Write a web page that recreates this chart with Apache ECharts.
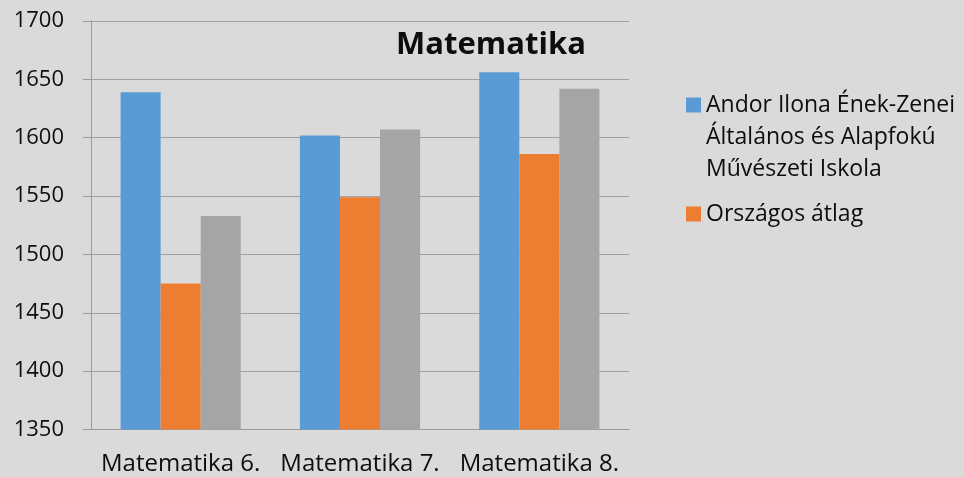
<!DOCTYPE html>
<html>
<head>
<meta charset="utf-8">
<script src="https://cdn.jsdelivr.net/npm/echarts@6/dist/echarts.min.js"></script>
<style>
html,body{margin:0;padding:0;background:#dadada;}
#chart{width:964px;height:477px;}
</style>
</head>
<body>
<div id="chart"></div>
<script>
const categories = ['Matematika 6.', 'Matematika 7.', 'Matematika 8.'];
const seriesNames = ['Andor Ilona Ének-Zenei\nÁltalános és Alapfokú\nMűvészeti Iskola', 'Országos átlag', 'Sorozat3'];
const schoolValues = [1639, 1602, 1656];
const nationalValues = [1475, 1549, 1586];
const thirdValues = [1533, 1607, 1642];
const yTicks = [1350, 1400, 1450, 1500, 1550, 1600, 1650, 1700];

const chart = echarts.init(document.getElementById('chart'));
const font = '"Open Sans", sans-serif';
const txt = {fontFamily: font, fontSize: 23, color: '#0d0d0d', lineHeight: 32};
chart.setOption({
  backgroundColor: '#dadada',
  animation: false,
  title: {
    text: 'Matematika',
    left: 486, top: 25, textAlign: 'center',
    textStyle: {fontFamily: font, fontWeight: 'bold', fontSize: 31, color: '#0d0d0d'}
  },
  legend: {
    orient: 'vertical',
    left: 686, top: 25, padding: 0,
    itemWidth: 15, itemHeight: 15, itemGap: 13,
    icon: 'rect',
    textStyle: {
      fontFamily: font, fontSize: 23, color: '#0d0d0d', lineHeight: 32,
      rich: {sp: {fontFamily: font, fontSize: 23, lineHeight: 64}, t: txt}
    },
    formatter: function (name) {
      if (name.indexOf('\n') < 0) return name;
      return '{sp| }\n' + name.split('\n').map(function (l) { return '{t|' + l + '}'; }).join('\n');
    },
    data: [seriesNames[0], seriesNames[1]]
  },
  grid: {left: 91, right: 335, top: 21, bottom: 47.5, containLabel: false},
  xAxis: {
    type: 'category',
    data: categories,
    axisLine: {lineStyle: {color: '#9a9a9a', width: 1}},
    axisTick: {length: 7, lineStyle: {color: '#9a9a9a'}},
    axisLabel: {fontFamily: font, fontSize: 24, color: '#0d0d0d', margin: 23, interval: 0}
  },
  yAxis: {
    type: 'value',
    min: yTicks[0], max: yTicks[yTicks.length - 1], interval: 50,
    axisLine: {show: true, lineStyle: {color: '#9a9a9a', width: 1}},
    axisTick: {show: true, length: 8, lineStyle: {color: '#9a9a9a'}},
    splitLine: {lineStyle: {color: '#a0a0a0', width: 1.2}},
    axisLabel: {fontFamily: font, fontSize: 22, color: '#0d0d0d', margin: 27, formatter: function (v) { return String(v); }}
  },
  series: [
    {name: seriesNames[0], type: 'bar', data: schoolValues, barGap: '0%', barCategoryGap: '33%', itemStyle: {color: '#5b9bd5'}},
    {name: seriesNames[1], type: 'bar', data: nationalValues, barGap: '0%', barCategoryGap: '33%', itemStyle: {color: '#ed7d31'}},
    {name: seriesNames[2], type: 'bar', data: thirdValues, barGap: '0%', barCategoryGap: '33%', itemStyle: {color: '#a5a5a5'}}
  ]
});
</script>
</body>
</html>
